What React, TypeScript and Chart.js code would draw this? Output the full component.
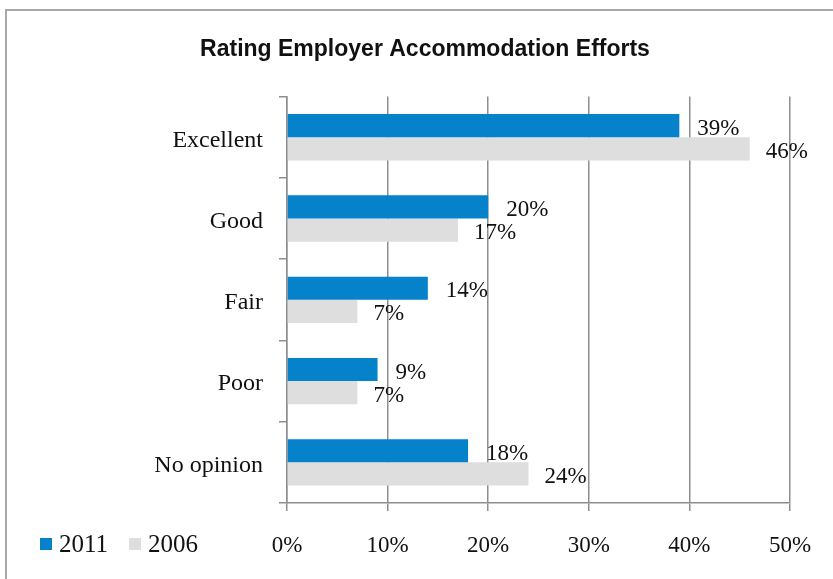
import React, { useEffect, useRef } from "react";
import { Chart, registerables } from "chart.js";

Chart.register(...registerables);

const chartTitle = "Rating Employer Accommodation Efforts";
const categories = ["Excellent", "Good", "Fair", "Poor", "No opinion"];
const seriesNames = ["2011", "2006"];
const values2011 = [39, 20, 14, 9, 18];
const values2006 = [46, 17, 7, 7, 24];
const xTickValues = [0, 10, 20, 30, 40, 50];

const BLUE = "#0582CA";
const LIGHT = "#DEDEDE";
const GRID = "#8E8E8E";
const SERIF = "'Liberation Serif', 'DejaVu Serif', serif";
const SANS = "'Liberation Sans Narrow', 'Liberation Sans', Arial, sans-serif";

export default function App() {
  const ref = useRef<HTMLCanvasElement | null>(null);

  useEffect(() => {
    document.body.style.margin = "0";
    const canvas = ref.current;
    if (!canvas) return;

    const framePlugin = {
      id: "frame",
      beforeDraw(chart: any) {
        const c = chart.ctx;
        c.save();
        c.fillStyle = "#ffffff";
        c.fillRect(0, 0, chart.width, chart.height);
        c.strokeStyle = "#A8A8A8";
        c.lineWidth = 2;
        c.beginPath();
        c.moveTo(5, 10);
        c.lineTo(chart.width, 10);
        c.moveTo(6, 9);
        c.lineTo(6, chart.height);
        c.stroke();
        c.restore();
      },
    };

    const valueLabels = {
      id: "valueLabels",
      afterDatasetsDraw(chart: any) {
        const c = chart.ctx;
        c.save();
        c.font = `23px ${SERIF}`;
        c.fillStyle = "#111";
        c.textAlign = "left";
        c.textBaseline = "middle";
        chart.data.datasets.forEach((ds: any, di: number) => {
          const meta = chart.getDatasetMeta(di);
          meta.data.forEach((bar: any, i: number) => {
            const v = ds.data[i];
            c.fillText(`${v}%`, bar.x + (di === 0 ? 18 : 16), bar.y + 3);
          });
        });
        c.restore();
      },
    };

    const bottomLegend = {
      id: "bottomLegend",
      afterDraw(chart: any) {
        const c = chart.ctx;
        c.save();
        c.font = `25px ${SERIF}`;
        c.textBaseline = "middle";
        c.textAlign = "left";
        let x = 40;
        const y = 545;
        chart.data.datasets.forEach((ds: any) => {
          c.fillStyle = ds.backgroundColor;
          c.fillRect(x, y - 7, 12, 12);
          x += 19;
          c.fillStyle = "#111";
          c.fillText(ds.label, x, y);
          x += c.measureText(ds.label).width + 21;
        });
        c.restore();
      },
    };

    const chart = new Chart(canvas, {
      type: "bar",
      data: {
        labels: categories,
        datasets: [
          { label: seriesNames[0], data: values2011, backgroundColor: BLUE, borderWidth: 0 },
          { label: seriesNames[1], data: values2006, backgroundColor: LIGHT, borderWidth: 0 },
        ],
      },
      options: {
        indexAxis: "y",
        animation: false,
        responsive: true,
        maintainAspectRatio: false,
        layout: { padding: { left: 60, right: 43, top: 0, bottom: 0 } },
        datasets: { bar: { categoryPercentage: 0.57, barPercentage: 1.0 } },
        plugins: {
          legend: { display: false },
          tooltip: { enabled: false },
          title: {
            display: true,
            text: chartTitle,
            color: "#111",
            font: { family: SANS, size: 23, weight: "bold", lineHeight: 1.2 },
            padding: { top: 36, bottom: 33 },
          },
        },
        scales: {
          x: {
            type: "linear",
            min: 0,
            max: 50,
            afterBuildTicks: (s: any) => {
              s.ticks = xTickValues.map((v) => ({ value: v }));
            },
            afterFit: (s: any) => {
              s.height = 76;
            },
            ticks: {
              color: "#111",
              font: { family: SERIF, size: 23 },
              padding: 21,
              callback: (v: any) => `${v}%`,
            },
            grid: { color: GRID, lineWidth: 1.5, tickLength: 8, drawTicks: true },
            border: { display: true, color: GRID, width: 1.5 },
          },
          y: {
            type: "category",
            afterFit: (s: any) => {
              s.width = 227;
            },
            ticks: {
              color: "#111",
              font: { family: SERIF, size: 24 },
              padding: 16,
              labelOffset: 3,
            },
            grid: { drawOnChartArea: false, color: GRID, lineWidth: 1.5, tickLength: 8, offset: true },
            border: { display: true, color: GRID, width: 1.5 },
          },
        },
      },
      plugins: [framePlugin, valueLabels, bottomLegend],
    });

    return () => chart.destroy();
  }, []);

  return (
    <div style={{ width: 833, height: 579, position: "relative" }}>
      <canvas ref={ref} />
    </div>
  );
}
